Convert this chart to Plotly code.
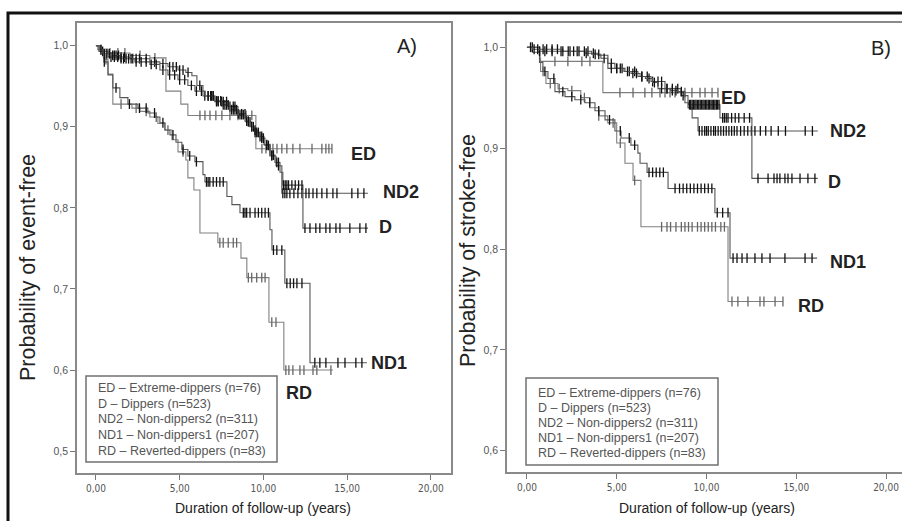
import numpy as np
import plotly.graph_objects as go

FONT = "Liberation Sans, Arial, sans-serif"
NARROW = "Liberation Sans Narrow, DejaVu Sans Condensed, Arial Narrow, sans-serif"

# ---------------- text / tick data ----------------
groups = ["ED", "D", "ND2", "ND1", "RD"]
legend_lines = [
    "ED \u2013 Extreme-dippers (n=76)",
    "D \u2013 Dippers (n=523)",
    "ND2 \u2013 Non-dippers2 (n=311)",
    "ND1 \u2013 Non-dippers1 (n=207)",
    "RD \u2013 Reverted-dippers (n=83)",
]
x_tickvals = [0, 5, 10, 15, 20]
x_ticktext = ["0,00", "5,00", "10,00", "15,00", "20,00"]
ya_tickvals = [0.5, 0.6, 0.7, 0.8, 0.9, 1.0]
ya_ticktext = ["0,5", "0,6", "0,7", "0,8", "0,9", "1,0"]
yb_tickvals = [0.6, 0.7, 0.8, 0.9, 1.0]
yb_ticktext = ["0,6", "0,7", "0,8", "0,9", "1,0"]

# ---------------- Panel A: event-free ----------------
A_ED_t = [0, 0.30, 0.72, 2.03, 3.22, 4.18, 5.07, 5.49, 9.55]
A_ED_s = [1.0, 0.996, 0.991, 0.988, 0.985, 0.944, 0.928, 0.914, 0.873]
A_ED_end = 14.1
A_ED_c = [0.84, 1.31, 1.73, 2.63, 3.52, 6.21, 6.51, 6.81, 7.16, 7.52, 8.0, 8.48, 8.96, 9.31,
          9.91, 10.15, 10.39, 10.57, 10.81, 11.10, 11.40, 11.76, 12.18, 12.90, 13.49, 13.73, 13.91, 14.09]

A_D_t = [0, 0.12, 0.42, 0.84, 1.43, 2.33, 3.22, 3.82, 4.30, 4.90, 5.49, 5.91, 6.51, 7.10, 7.52,
         8.00, 8.48, 8.90, 9.19, 9.49, 9.79, 10.09, 10.39, 10.69, 10.99, 11.16, 12.36]
A_D_s = [1.0, 0.995, 0.990, 0.988, 0.984, 0.980, 0.977, 0.970, 0.964, 0.958, 0.951, 0.944, 0.938, 0.932,
         0.927, 0.921, 0.915, 0.907, 0.900, 0.893, 0.886, 0.877, 0.865, 0.856, 0.844, 0.828, 0.775]
A_D_end = 16.24
A_D_c = [0.3, 0.5, 0.65, 0.8, 1.0, 1.1, 1.2, 1.35, 1.5, 1.65, 1.8, 1.95, 2.1, 2.4, 2.7, 3.0, 3.3,
         3.6, 4.0, 4.4, 4.7, 5.0, 5.3, 5.7, 6.0, 6.3, 6.7, 6.85, 7.0, 7.2, 7.3, 7.45, 7.6, 7.7,
         7.8, 7.9, 8.1, 8.2, 8.3, 8.4, 8.6, 8.7, 8.8, 9.0, 9.1, 9.3, 9.4, 9.5, 9.6, 9.7, 9.9, 10.0,
         10.2, 10.3, 10.5, 10.6, 10.8, 10.9, 11.2, 11.3, 11.4, 11.5, 11.7, 11.9, 12.1, 12.3,
         12.48, 12.78, 13.13, 13.37, 13.73, 13.97, 14.33, 14.57, 15.16, 15.76, 16.12]

A_ND2_t = [0, 0.24, 0.72, 2.03, 3.22, 3.82, 4.30, 4.90, 5.37, 5.73, 6.03, 6.39, 7.10, 7.88, 8.48,
           8.96, 9.31, 9.67, 10.03, 10.39, 10.75, 11.10]
A_ND2_s = [1.0, 0.993, 0.986, 0.984, 0.980, 0.978, 0.974, 0.970, 0.967, 0.963, 0.951, 0.938, 0.931,
           0.925, 0.916, 0.906, 0.896, 0.888, 0.878, 0.864, 0.852, 0.818]
A_ND2_end = 16.24
A_ND2_c = [0.4, 0.9, 1.1, 1.3, 1.5, 1.7, 2.2, 2.4, 2.6, 3.0, 3.5, 4.0, 4.4, 4.6, 4.8, 5.0, 5.2, 5.5,
           6.2, 6.5, 6.7, 6.9, 7.0, 7.2, 7.3, 7.5, 7.6, 7.8, 8.0, 8.2, 8.3, 8.5, 8.7, 8.9, 9.1, 9.2,
           9.5, 9.8, 9.9, 10.2, 10.5, 10.9,
           11.16, 11.28, 11.40, 11.58, 11.82, 12.06, 12.30, 12.54, 12.72, 12.96, 13.19, 13.49, 13.79,
           14.15, 14.39, 15.28, 15.64, 16.0]

A_ND1_t = [0, 0.18, 0.48, 0.72, 1.01, 1.43, 1.91, 2.51, 3.10, 3.52, 3.82, 4.12, 4.42, 4.78, 5.13,
           5.49, 5.91, 6.39, 6.51, 7.82, 8.12, 8.60, 10.39, 10.51, 11.28, 12.78]
A_ND1_s = [1.0, 0.993, 0.980, 0.964, 0.948, 0.936, 0.928, 0.923, 0.917, 0.912, 0.905, 0.896, 0.890,
           0.881, 0.872, 0.864, 0.857, 0.841, 0.832, 0.814, 0.804, 0.794, 0.773, 0.748, 0.707, 0.609]
A_ND1_end = 16.18
A_ND1_c = [0.5, 1.2, 2.0, 2.6, 3.0, 3.5, 4.0, 4.6, 5.2, 5.6, 6.0, 6.6, 6.7, 6.8, 7.0, 7.2, 7.4, 7.6,
           8.8, 8.9, 9.0, 9.2, 9.5, 9.7, 9.9, 10.1, 10.3, 10.6, 10.8, 11.1,
           11.4, 11.6, 11.8, 12.0, 12.3, 13.07, 13.37, 13.73, 14.45, 14.87, 15.52, 15.88]

A_RD_t = [0, 0.24, 0.54, 0.72, 1.01, 2.15, 2.63, 3.22, 3.70, 4.12, 4.54, 4.90, 5.37, 5.49, 5.85,
          6.21, 7.28, 8.66, 9.01, 10.33, 11.22]
A_RD_s = [1.0, 0.995, 0.983, 0.965, 0.928, 0.923, 0.919, 0.912, 0.904, 0.896, 0.884, 0.869, 0.859,
          0.837, 0.822, 0.769, 0.757, 0.738, 0.714, 0.659, 0.600]
A_RD_end = 14.15
A_RD_c = [0.3, 0.6, 1.5, 2.4, 3.0, 3.6, 4.3, 5.2, 7.4, 7.6, 7.9, 8.2, 8.4, 9.1, 9.3, 9.6, 9.9, 10.1,
          10.5, 10.75, 11.34, 11.52, 11.76, 12.18, 12.42, 12.96, 13.19, 14.03]

# ---------------- Panel B: stroke-free ----------------
B_ED_t = [0, 0.72, 4.23]
B_ED_s = [1.0, 0.986, 0.955]
B_ED_end = 10.64
B_ED_c = [1.56, 2.28, 3.06, 3.51, 5.18, 5.91, 6.57, 6.96, 7.41, 7.69, 7.97, 8.25, 8.80, 9.19,
          9.64, 9.92, 10.31, 10.64]

B_D_t = [0, 0.30, 2.00, 3.60, 4.12, 4.50, 4.90, 5.40, 5.80, 6.30, 6.60, 7.00, 7.30, 8.00, 8.41,
         8.80, 9.00, 10.75, 12.53]
B_D_s = [1.0, 0.998, 0.996, 0.993, 0.989, 0.984, 0.979, 0.976, 0.974, 0.971, 0.969, 0.965, 0.959,
         0.957, 0.956, 0.945, 0.943, 0.930, 0.870]
B_D_end = 16.2
B_D_c = [0.2, 0.4, 0.6, 0.9, 1.1, 1.4, 1.7, 2.0, 2.3, 2.6, 2.9, 3.2, 3.4, 3.8, 4.0, 4.3, 4.7, 5.0,
         5.2, 5.6, 5.9, 6.1, 6.4, 6.8, 7.1, 7.5, 7.8, 8.1, 8.3, 8.6,
         9.05, 9.12, 9.2, 9.27, 9.35, 9.42, 9.5, 9.57, 9.65, 9.72, 9.8, 9.87, 9.95, 10.02, 10.1,
         10.17, 10.25, 10.32, 10.4, 10.47, 10.55, 10.62, 10.7,
         10.9, 11.0, 11.1, 11.2, 11.4, 11.6, 11.8, 12.1, 12.4,
         12.87, 13.43, 13.76, 13.93, 14.09, 14.37, 14.54, 14.76, 15.21, 15.65, 16.04]

B_ND2_t = [0, 0.60, 3.23, 3.96, 4.51, 5.46, 6.18, 6.91, 7.69, 8.58, 8.97, 9.20, 9.53]
B_ND2_s = [1.0, 0.996, 0.994, 0.992, 0.979, 0.976, 0.971, 0.966, 0.959, 0.952, 0.940, 0.930, 0.917]
B_ND2_end = 16.2
B_ND2_c = [0.3, 0.7, 1.0, 1.4, 1.9, 2.4, 2.8, 3.3, 3.7, 4.7, 5.0, 5.3, 5.7, 6.0, 6.4, 6.7, 7.0,
           7.3, 7.5, 7.8, 8.1, 8.4, 8.7,
           9.6, 9.75, 9.9, 10.0, 10.1, 10.25, 10.4, 10.5, 10.65, 10.8, 10.95, 11.1, 11.25, 11.4,
           11.55, 11.7, 11.9, 12.1, 12.3, 12.5, 12.7, 13.0, 13.3, 13.6, 14.0, 14.4, 15.5, 15.9]

B_ND1_t = [0, 0.30, 0.70, 0.89, 1.17, 1.56, 2.12, 2.67, 3.23, 3.79, 4.35, 4.90, 5.24, 5.79, 6.18,
           6.30, 6.69, 7.86, 10.47, 11.31]
B_ND1_s = [1.0, 0.995, 0.985, 0.976, 0.969, 0.956, 0.951, 0.948, 0.945, 0.937, 0.928, 0.917, 0.910,
           0.903, 0.895, 0.885, 0.876, 0.860, 0.836, 0.791]
B_ND1_end = 16.16
B_ND1_c = [1.0, 1.5, 2.0, 2.5, 3.0, 3.5, 4.0, 4.6, 5.2, 5.7, 6.0, 6.8, 7.0, 7.2, 7.4, 7.6,
           8.25, 8.5, 8.7, 8.9, 9.1, 9.3, 9.5, 9.7, 9.9, 10.1, 10.3, 10.6, 10.9, 11.2,
           11.48, 11.70, 11.98, 12.26, 12.70, 13.09, 13.54, 14.37, 15.49, 15.88]

B_RD_t = [0, 0.72, 0.76, 1.06, 1.73, 2.28, 3.00, 3.50, 4.00, 4.50, 5.00, 5.46, 5.91, 6.35, 11.20]
B_RD_s = [1.0, 0.989, 0.976, 0.964, 0.959, 0.957, 0.950, 0.940, 0.932, 0.925, 0.905, 0.885, 0.868,
          0.822, 0.748]
B_RD_end = 14.26
B_RD_c = [0.9, 1.3, 1.8, 2.5, 3.2, 4.0, 4.8, 5.2, 6.0, 7.5, 7.8, 8.0, 8.3, 8.6, 8.8, 9.0, 9.2,
          9.5, 9.7, 9.9, 10.1, 10.3, 10.5, 10.8, 11.0, 11.42, 11.75, 12.31, 12.98, 13.2, 13.82, 14.26]

# ---------------- build figure ----------------
W, H = 902, 521
fig = go.Figure()

LINE_DARK = "#555555"
LINE_GRAY = "#808080"
TICK_DARK = "#111111"
TICK_GRAY = "#666666"


def add_km(t, s, end, cens, xa, ya, line_col, tick_col):
    tx = list(t) + [end]
    sy = list(s) + [s[-1]]
    fig.add_trace(go.Scatter(x=tx, y=sy, mode="lines", line=dict(shape="hv", color=line_col, width=1.1),
                             xaxis=xa, yaxis=ya, showlegend=False, hoverinfo="skip"))
    ta = np.array(t)
    c = np.array(cens)
    cy = np.array(s)[np.searchsorted(ta, c, side="right") - 1]
    fig.add_trace(go.Scatter(x=c, y=cy, mode="markers",
                             marker=dict(symbol="line-ns", size=7, line=dict(width=1.3, color=tick_col)),
                             xaxis=xa, yaxis=ya, showlegend=False, hoverinfo="skip"))


panelA = [
    (A_RD_t, A_RD_s, A_RD_end, A_RD_c, LINE_GRAY, TICK_GRAY),
    (A_ED_t, A_ED_s, A_ED_end, A_ED_c, LINE_GRAY, TICK_GRAY),
    (A_ND1_t, A_ND1_s, A_ND1_end, A_ND1_c, LINE_DARK, TICK_DARK),
    (A_ND2_t, A_ND2_s, A_ND2_end, A_ND2_c, LINE_DARK, TICK_DARK),
    (A_D_t, A_D_s, A_D_end, A_D_c, LINE_DARK, TICK_DARK),
]
panelB = [
    (B_RD_t, B_RD_s, B_RD_end, B_RD_c, LINE_GRAY, TICK_GRAY),
    (B_ED_t, B_ED_s, B_ED_end, B_ED_c, LINE_GRAY, TICK_GRAY),
    (B_ND1_t, B_ND1_s, B_ND1_end, B_ND1_c, LINE_DARK, TICK_DARK),
    (B_ND2_t, B_ND2_s, B_ND2_end, B_ND2_c, LINE_DARK, TICK_DARK),
    (B_D_t, B_D_s, B_D_end, B_D_c, LINE_DARK, TICK_DARK),
]
for p in panelA:
    add_km(*p[:4], "x", "y", p[4], p[5])
for p in panelB:
    add_km(*p[:4], "x2", "y2", p[4], p[5])

axis_common = dict(showline=True, mirror=True, linecolor="#8a8a8a", linewidth=1.6,
                   ticks="outside", ticklen=5, tickwidth=1, tickcolor="#777777",
                   showgrid=False, zeroline=False, automargin=False)
xfont = dict(family=NARROW, size=10, color="#555555")
yfont = dict(family=FONT, size=10.5, color="#555555")

fig.update_layout(
    width=W, height=H,
    margin=dict(l=0, r=0, t=0, b=0),
    paper_bgcolor="white", plot_bgcolor="white",
    xaxis=dict(domain=[77 / W, 451 / W], range=[-1.13, 21.2], tickvals=x_tickvals, ticktext=x_ticktext,
               anchor="y", tickfont=xfont, **axis_common),
    yaxis=dict(domain=[1 - 473 / H, 1 - 23 / H], range=[0.473, 1.028], tickvals=ya_tickvals,
               ticktext=ya_ticktext, anchor="x", tickfont=yfont, **axis_common),
    xaxis2=dict(domain=[507 / W, 1.0], range=[-1.11, 20.89], tickvals=x_tickvals, ticktext=x_ticktext,
                anchor="y2", tickfont=xfont, **axis_common),
    yaxis2=dict(domain=[1 - 472 / H, 1 - 23 / H], range=[0.579, 1.024], tickvals=yb_tickvals,
                ticktext=yb_ticktext, anchor="x2", tickfont=yfont, **axis_common),
    showlegend=False,
)

annotations = []


def pa(text, px, py, size, color="#222222", bold=False, family=FONT, xanchor="center",
       yanchor="middle", angle=0):
    if bold:
        text = "<b>" + text + "</b>"
    annotations.append(dict(text=text, x=px / W, y=1 - py / H, xref="paper", yref="paper",
                            showarrow=False, xanchor=xanchor, yanchor=yanchor, textangle=angle,
                            font=dict(family=family, size=size, color=color), borderpad=0))


def da(text, x, y, xa, ya, size=18):
    annotations.append(dict(text="<b>" + text + "</b>", x=x, y=y, xref=xa, yref=ya, showarrow=False,
                            xanchor="left", yanchor="middle", borderpad=0,
                            font=dict(family=FONT, size=size, color="#222222")))


# axis titles
pa("Probability of event-free", 28, 268, 21.5, angle=-90)
pa("Probability of stroke-free", 468, 250, 21.5, angle=-90)
pa("Duration of follow-up (years)", 263, 508, 14)
pa("Duration of follow-up (years)", 707, 508, 14)
# panel tags
pa("A)", 407, 46, 20)
pa("B)", 881, 48, 20)

# curve labels
label_pos_A = {"ED": (15.15, 0.867), "ND2": (17.07, 0.820), "D": (16.84, 0.777),
               "ND1": (16.36, 0.609), "RD": (11.28, 0.572)}
for g in groups:
    da(g, *label_pos_A[g], "x", "y")
label_pos_B = {"ED": (10.75, 0.950), "ND2": (16.82, 0.917), "D": (16.71, 0.866),
               "ND1": (16.82, 0.787), "RD": (15.04, 0.744)}
for g in groups:
    da(g, *label_pos_B[g], "x2", "y2")

# legend boxes (text)
legA_y = [388, 404, 419, 435, 451]
legB_y = [393, 408, 423, 438, 453]
for i, line in enumerate(legend_lines):
    pa(line, 97, legA_y[i], 12.5, color="#555555", family=FONT, xanchor="left")
    pa(line, 537, legB_y[i], 12.5, color="#555555", family=FONT, xanchor="left")

shapes = [
    dict(type="rect", xref="paper", yref="paper", x0=86 / W, x1=277 / W, y0=1 - 462 / H, y1=1 - 376 / H,
         line=dict(color="#707070", width=1.5), fillcolor="rgba(0,0,0,0)", layer="above"),
    dict(type="rect", xref="paper", yref="paper", x0=526 / W, x1=718 / W, y0=1 - 465 / H, y1=1 - 378 / H,
         line=dict(color="#707070", width=1.5), fillcolor="rgba(0,0,0,0)", layer="above"),
    # outer black frame
    dict(type="rect", xref="paper", yref="paper", x0=8 / W, x1=1.05, y0=-0.05, y1=1 - 13 / H,
         line=dict(color="#111111", width=3), fillcolor="rgba(0,0,0,0)"),
]
fig.update_layout(annotations=annotations, shapes=shapes)

fig.write_html("out.html", config={"displayModeBar": False},
               post_script="document.body.style.margin='0px';document.body.style.overflow='hidden';")
